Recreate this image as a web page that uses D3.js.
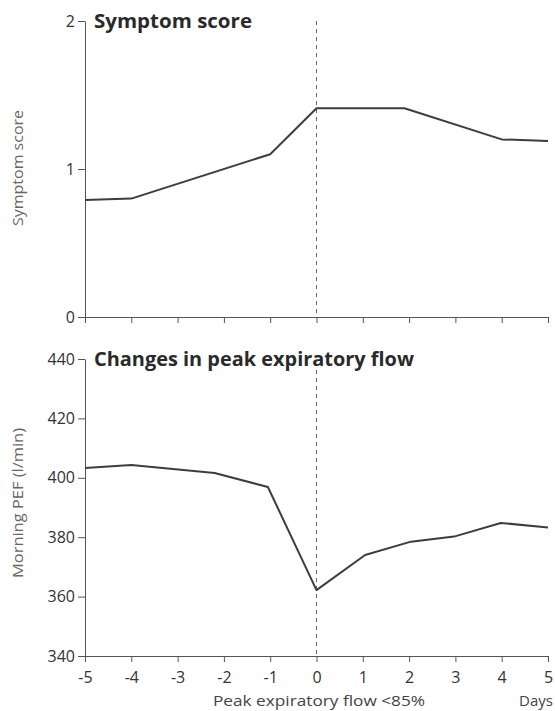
<!DOCTYPE html>
<meta charset="utf-8">
<script src="https://d3js.org/d3.v7.min.js"></script>
<style>
  body { margin: 0; background: #fff; }
  text { font-family: "Open Sans", Lato, sans-serif; }
</style>
<div id="my_dataviz"></div>
<script>

// day ticks shared by both panels
var dayTicks = [-5, -4, -3, -2, -1, 0, 1, 2, 3, 4, 5];

// symptom score panel
var symptomDays   = [-5, -4, -1, 0, 1.9, 4, 5];
var symptomValues = [0.79, 0.80, 1.10, 1.41, 1.41, 1.20, 1.19];
var symptomTicks  = [0, 1, 2];

// peak expiratory flow panel
var pefDays   = [-5, -4, -2.2, -1.05, 0, 1.05, 2.04, 2.97, 3.98, 5];
var pefValues = [403.3, 404.3, 401.6, 396.9, 362.2, 374.0, 378.5, 380.2, 384.8, 383.3];
var pefTicks  = [340, 360, 380, 400, 420, 440];

var W = 555, H = 711;

var svg = d3.select("#my_dataviz")
  .append("svg")
    .attr("width", W)
    .attr("height", H);

var x = d3.scaleLinear().domain([-5, 5]).range([85, 548]);

var lineCol = "#3d3d3d", axisCol = "#555";

function panel(opts) {
  var y = d3.scaleLinear().domain(opts.domain).range(opts.range);

  // x axis (labels only on the lower panel)
  var xa = svg.append("g")
    .attr("transform", "translate(0," + opts.range[0] + ")")
    .call(d3.axisBottom(x).tickValues(dayTicks).tickSize(6).tickSizeOuter(0)
      .tickFormat(opts.xLabels ? function(d) { return d < 0 ? "-" + Math.abs(d) : d; } : ""));
  xa.select(".domain").attr("stroke", axisCol);
  xa.selectAll(".tick line").attr("stroke", axisCol);
  xa.selectAll("text")
    .attr("fill", "#333")
    .style("font-size", "16px")
    .attr("dy", "1.1em");

  // y axis
  var ya = svg.append("g")
    .attr("transform", "translate(" + x(-5) + ",0)")
    .call(d3.axisLeft(y).tickValues(opts.ticks).tickSize(7).tickSizeOuter(0)
      .tickFormat(d3.format("d")));
  ya.select(".domain").attr("stroke", axisCol);
  ya.selectAll(".tick line").attr("stroke", axisCol);
  ya.selectAll("text")
    .attr("fill", "#333")
    .style("font-size", "16px")
    .attr("x", -10);

  // dashed reference at day 0
  svg.append("line")
    .attr("x1", x(0)).attr("x2", x(0))
    .attr("y1", opts.dashTop).attr("y2", opts.range[0])
    .attr("stroke", "#666")
    .attr("stroke-width", 1)
    .attr("stroke-dasharray", "4,4");

  // data line
  var pts = opts.days.map(function(d, i) { return [d, opts.values[i]]; });
  svg.append("path")
    .datum(pts)
    .attr("fill", "none")
    .attr("stroke", lineCol)
    .attr("stroke-width", 2)
    .attr("stroke-linejoin", "round")
    .attr("d", d3.line()
      .x(function(d) { return x(d[0]); })
      .y(function(d) { return y(d[1]); }));

  // panel title
  svg.append("text")
    .attr("x", 94)
    .attr("y", opts.titleY)
    .attr("fill", "#2a2a2a")
    .attr("textLength", opts.titleLen)
    .attr("lengthAdjust", "spacingAndGlyphs")
    .style("font-size", "19px")
    .style("font-weight", "bold")
    .text(opts.title);

  // y axis label
  svg.append("text")
    .attr("transform", "translate(23," + opts.labelY + ")rotate(-90)")
    .style("text-anchor", "middle")
    .style("font-size", "15px")
    .attr("fill", "#666")
    .attr("textLength", opts.labelLen)
    .attr("lengthAdjust", "spacingAndGlyphs")
    .text(opts.yLabel);
}

panel({
  domain: [0, 2], range: [317, 21], ticks: symptomTicks,
  days: symptomDays, values: symptomValues,
  title: "Symptom score", titleY: 28, titleLen: 158,
  yLabel: "Symptom score", labelY: 168, labelLen: 116,
  dashTop: 21, xLabels: false
});

panel({
  domain: [340, 440], range: [656, 359], ticks: pefTicks,
  days: pefDays, values: pefValues,
  title: "Changes in peak expiratory flow", titleY: 366, titleLen: 320,
  yLabel: "Morning PEF (l/min)", labelY: 503, labelLen: 150,
  dashTop: 370, xLabels: true
});

svg.append("text")
  .attr("x", 213)
  .attr("y", 706)
  .style("font-size", "15px")
  .attr("fill", "#444")
  .attr("textLength", 212)
  .attr("lengthAdjust", "spacingAndGlyphs")
  .text("Peak expiratory flow <85%");

svg.append("text")
  .attr("x", 553)
  .attr("y", 706)
  .style("text-anchor", "end")
  .style("font-size", "15px")
  .attr("fill", "#444")
  .text("Days");

</script>
